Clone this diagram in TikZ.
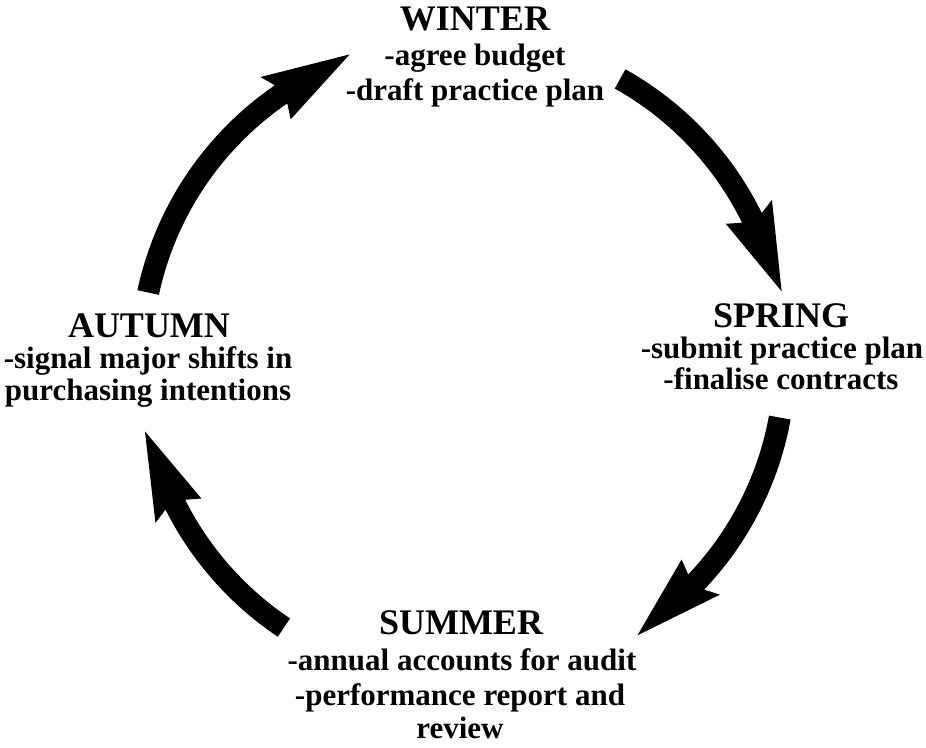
\documentclass[tikz,border=0pt]{standalone}
\usepackage{fontspec}
\setmainfont{Liberation Serif}
\usetikzlibrary{calc}
\tikzset{
  title/.style={font=\fontsize{36}{40}\selectfont\bfseries, anchor=base, inner sep=0pt},
  body/.style={font=\fontsize{31}{34}\selectfont\bfseries, anchor=base, inner sep=0pt},
  bigarrow/.style={fill=black, draw=none}
}
\begin{document}
\begin{tikzpicture}[x=1pt, y=-1pt]
\fill[white] (0,0) rectangle (926,747);
\useasboundingbox (0,0) rectangle (926,747);
\coordinate (C) at (463,360);
% WINTER
\node[title] (wt) at (475,30) {WINTER};
\node[body] (w1) at (475,65) {-agree budget};
\node[body] (w2) at (475,100) {-draft practice plan};
% SPRING
\node[title] (st) at (781,327) {SPRING};
\node[body] (s1) at (782,358) {-submit practice plan};
\node[body] (s2) at (781,389) {-finalise contracts};
% SUMMER
\node[title] (mt) at (461,634) {SUMMER};
\node[body] (m1) at (462,670) {-annual accounts for audit};
\node[body] (m2) at (460,705) {-performance report and};
\node[body] (m3) at (460,738) {review};
% AUTUMN
\node[title] (at) at (149,337) {AUTUMN};
\node[body] (a1) at (148,368) {-signal major shifts in};
\node[body] (a2) at (148,400) {purchasing intentions};
% arrows (clockwise)
\foreach \ta/\tb in {192.1/234.4, 299.2/332.6, 10.3/42.4, 123.8/152.1}{
  \pgfmathsetmacro\tn{\tb+1.2}
  \fill[bigarrow] ($(C)+(\ta:333)$) arc[start angle=\ta, end angle=\tn, radius=333]
    -- ($(C)+(\tb:348)$)
    -- ($(C)+(\tb:322)+(\tb+95:86)$)
    -- ($(C)+(\tb:296)$)
    -- ($(C)+(\tn:311)$) arc[start angle=\tn, end angle=\ta, radius=311]
    -- cycle;
}
\end{tikzpicture}
\end{document}
